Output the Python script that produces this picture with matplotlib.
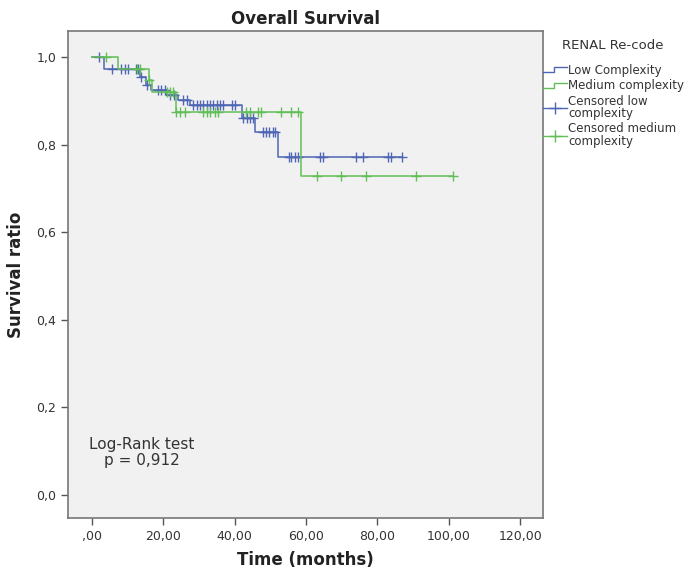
"""Kaplan-Meier overall survival by RENAL re-code (SPSS-style recreation)."""

import matplotlib

matplotlib.use("Agg")
import matplotlib.pyplot as plt
import numpy as np
from matplotlib.legend_handler import HandlerBase
from matplotlib.lines import Line2D

# --- data: step drops (time in months, survival after the drop) -------------
low_times = [0.0, 3.5, 13.4, 15.2, 16.6, 20.9, 24.2, 27.5, 41.9, 45.7, 52.2]
low_surv = [1.0, 0.972, 0.955, 0.937, 0.925, 0.913, 0.903, 0.890, 0.860, 0.828, 0.772]
low_end = 87.0
low_censored = [2.1, 5.5, 8.2, 9.2, 10.1, 12.4, 12.9, 13.7, 15.5, 18.5, 19.4,
                 20.4, 22.0, 23.0, 25.5, 26.5, 28.4, 29.3, 30.3, 31.2, 32.1,
                 33.0, 34.0, 34.9, 35.8, 36.7, 39.1, 40.1, 42.4, 43.3, 44.3,
                 45.0, 48.0, 48.7, 49.7, 50.6, 51.3, 55.3, 55.9, 56.9, 57.8,
                 63.9, 64.8, 73.9, 76.0, 83.0, 83.9, 87.0]

med_times = [0.0, 7.3, 16.0, 16.8, 23.5, 58.7]
med_surv = [1.0, 0.972, 0.947, 0.920, 0.875, 0.728]
med_end = 101.2
med_censored = [4.0, 12.5, 13.5, 16.0, 20.9, 21.8, 22.7, 23.5, 24.6, 26.1,
                31.2, 32.1, 33.1, 34.5, 35.4, 43.1, 44.3, 46.6, 47.3, 53.1,
                55.9, 57.8, 63.1, 69.9, 76.9, 90.9, 101.2]

x_ticks = [0, 20, 40, 60, 80, 100, 120]
x_ticklabels = [",00", "20,00", "40,00", "60,00", "80,00", "100,00", "120,00"]
y_ticks = [0.0, 0.2, 0.4, 0.6, 0.8, 1.0]
y_ticklabels = ["0,0", "0,2", "0,4", "0,6", "0,8", "1,0"]

BLUE = "#4f66b4"
GREEN = "#62bf57"
TXT = "#333333"


def surv_at(t, times, surv):
    i = np.searchsorted(times, t, side="right") - 1
    return np.asarray(surv)[i]


class StepHandler(HandlerBase):
    """Legend handle drawn as a small step, like SPSS does."""

    def create_artists(self, legend, orig, xd, yd, w, h, fs, trans):
        xs = [xd, xd + 0.45 * w, xd + 0.45 * w, xd + w]
        ys = [yd + 0.2 * h, yd + 0.2 * h, yd + 0.8 * h, yd + 0.8 * h]
        ln = Line2D(xs, ys, color=orig.get_color(), lw=1.0, transform=trans)
        return [ln]


fig = plt.figure(figsize=(6.9, 5.74), dpi=100, facecolor="white")
ax = fig.add_axes([0.0986, 0.0976, 0.688, 0.848])
ax.set_facecolor("#f1f1f1")

for times, surv, end, cens, col in (
    (low_times, low_surv, low_end, low_censored, BLUE),
    (med_times, med_surv, med_end, med_censored, GREEN),
):
    ax.step(list(times) + [end], list(surv) + [surv[-1]], where="post", color=col, lw=1.1)
    ax.plot(cens, surv_at(cens, times, surv), ls="none", marker="+", ms=6.5,
            mew=1.0, color=col)

ax.set_xlim(-6.7, 126.3)
ax.set_ylim(-0.0525, 1.059)
ax.set_xticks(x_ticks)
ax.set_xticklabels(x_ticklabels)
ax.set_yticks(y_ticks)
ax.set_yticklabels(y_ticklabels)
ax.tick_params(direction="out", length=5, width=1, colors="#555555",
               labelcolor=TXT, labelsize=9)
for s in ax.spines.values():
    s.set_color("#777777")
    s.set_linewidth(1.2)

ax.set_xlabel("Time (months)", fontsize=12, fontweight="bold", color="#222222", labelpad=6)
ax.set_ylabel("Survival ratio", fontsize=12, fontweight="bold", color="#222222", labelpad=8)
ax.set_title("Overall Survival", fontsize=12, fontweight="bold", color="#222222", pad=5)

ax.text(0.155, 0.135, "Log-Rank test\np = 0,912", transform=ax.transAxes,
        ha="center", va="center", fontsize=11, color=TXT, linespacing=1.05)

handles = [
    Line2D([], [], color=BLUE),
    Line2D([], [], color=GREEN),
    Line2D([], [], color=BLUE, marker="+", ms=9, lw=1.0),
    Line2D([], [], color=GREEN, marker="+", ms=9, lw=1.0),
]
labels = ["Low Complexity", "Medium complexity",
          "Censored low\ncomplexity", "Censored medium\ncomplexity"]
fig.text(0.8145, 0.921, "RENAL Re-code", ha="left", va="center", fontsize=9.5, color=TXT)
leg = fig.legend(handles, labels, loc="upper left", bbox_to_anchor=(0.780, 0.897),
                 frameon=False, fontsize=8.5, handlelength=2.0, handletextpad=0.15,
                 labelspacing=0.2, borderaxespad=0.0,
                 handler_map={handles[0]: StepHandler(), handles[1]: StepHandler()})
for t in leg.get_texts():
    t.set_color(TXT)
    t.set_linespacing(0.95)

fig.savefig("out.png", dpi=100, facecolor="white")
